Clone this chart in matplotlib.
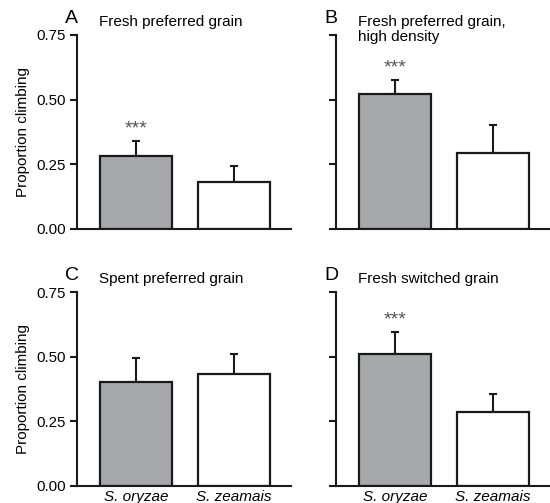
import matplotlib
matplotlib.use("Agg")
import matplotlib.pyplot as plt

plt.rcParams['font.family'] = ['Liberation Sans', 'DejaVu Sans']

species = ["S. oryzae", "S. zeamais"]
panel_letters = ["A", "B", "C", "D"]
panel_titles = ["Fresh preferred grain", "Fresh preferred grain,\nhigh density",
                "Spent preferred grain", "Fresh switched grain"]
means = [[0.282, 0.183], [0.522, 0.294], [0.403, 0.434], [0.512, 0.284]]
errors = [[0.058, 0.062], [0.054, 0.108], [0.091, 0.077], [0.085, 0.072]]
significant = [True, True, False, True]
yticks = [0.0, 0.25, 0.5, 0.75]
ytick_labels = ["0.00", "0.25", "0.50", "0.75"]
bar_colors = ["#a7a8ab", "#ffffff"]

W, H = 550, 503
fig = plt.figure(figsize=(W / 100, H / 100), dpi=100)

# axes rects in pixel coords: (left, top, right, bottom)
rects = [(77, 35, 291, 229), (336, 35, 550, 229),
         (77, 292.3, 291, 485.7), (336, 292.3, 550, 485.7)]

for i in range(4):
    l, t, r, b = rects[i]
    ax = fig.add_axes([l / W, 1 - b / H, (r - l) / W, (b - t) / H])
    x = [0, 1]
    ax.bar(x, means[i], width=0.735, color=bar_colors, edgecolor="#1a1a1a",
           linewidth=1.6, zorder=2)
    ax.errorbar(x, means[i], yerr=[[0, 0], errors[i]], fmt="none",
                ecolor="#1a1a1a", elinewidth=1.5, capsize=3, capthick=1.5, zorder=1)
    if significant[i]:
        ax.text(0, means[i][0] + errors[i][0] + 0.045, "***", ha="center", va="center",
                fontsize=14, color="#555555")
    ax.set_xlim(-0.602, 1.582)
    ax.set_ylim(0, 0.75)
    for s in ["top", "right"]:
        ax.spines[s].set_visible(False)
    for s in ["left", "bottom"]:
        ax.spines[s].set_linewidth(1.5)
        ax.spines[s].set_color("#1a1a1a")
    ax.set_yticks(yticks)
    if i % 2 == 0:
        ax.set_yticklabels(ytick_labels, fontsize=10.8)
        ax.set_ylabel("Proportion climbing", fontsize=11)
        ax.yaxis.set_label_coords(-0.22, 0.5)
    else:
        ax.set_yticklabels([])
    ax.tick_params(axis="y", direction="out", length=5, width=1.5, pad=3, color="#1a1a1a")
    ax.set_xticks(x)
    if i >= 2:
        ax.set_xticklabels(species, fontsize=11, style="italic")
    else:
        ax.set_xticklabels([])
    ax.tick_params(axis="x", length=0, pad=3)

    # panel letter and title
    fig.text((l - 12) / W, 1 - (t - 12.3) / H, panel_letters[i], fontsize=14,
             ha="left", va="baseline")
    lines = panel_titles[i].split("\n")
    for k, line in enumerate(lines):
        fig.text((l + 22) / W, 1 - (t - 9 + 15 * k) / H, line, fontsize=11,
                 ha="left", va="baseline")

fig.savefig("out.png", dpi=100)
